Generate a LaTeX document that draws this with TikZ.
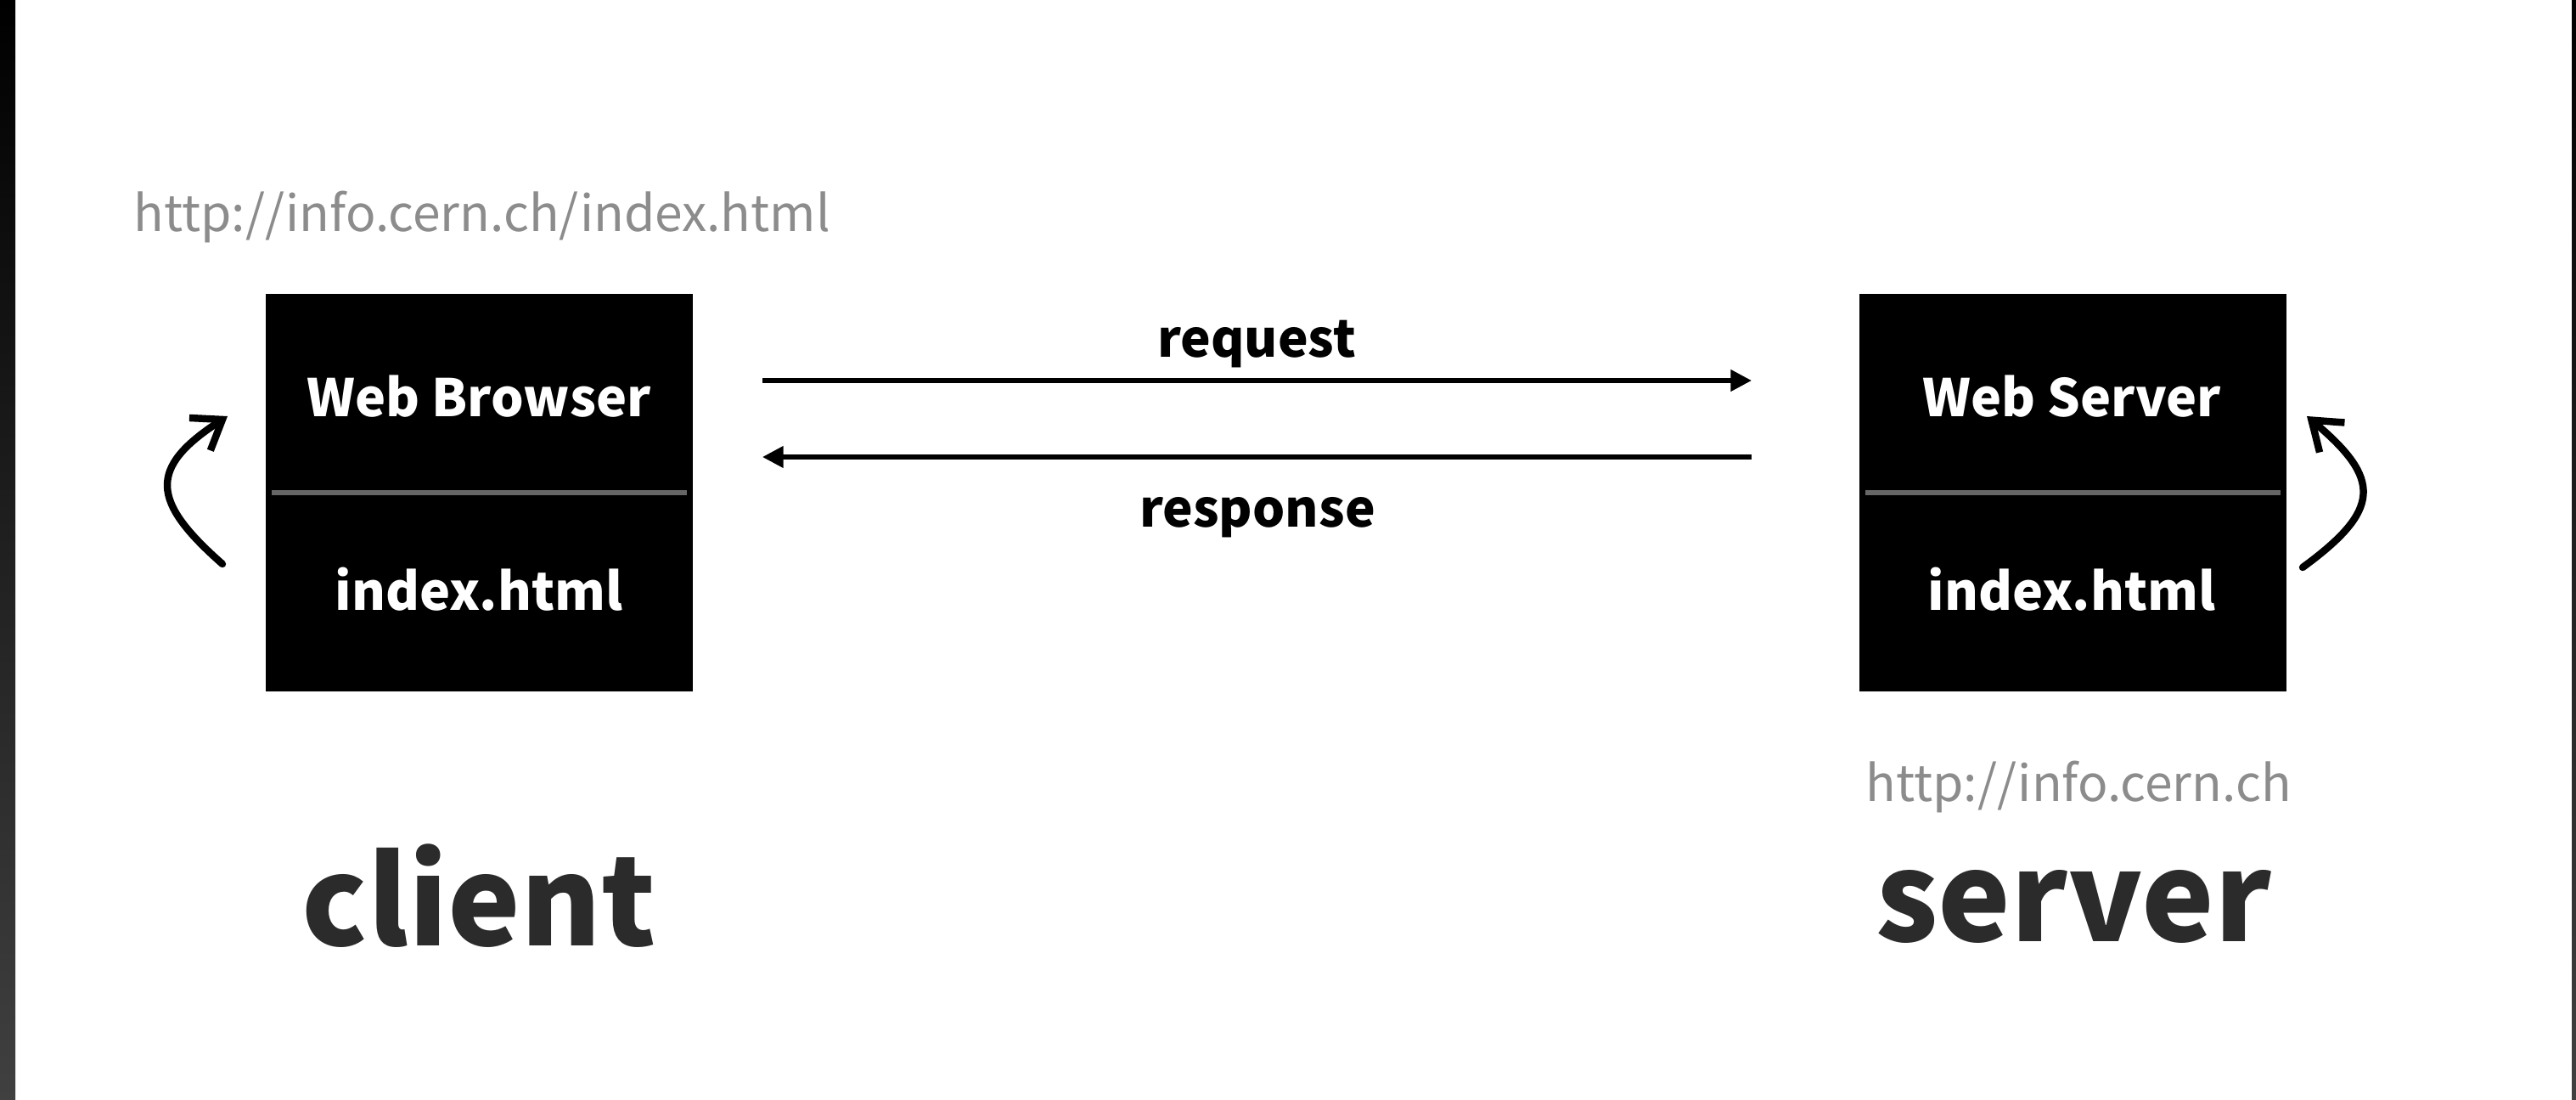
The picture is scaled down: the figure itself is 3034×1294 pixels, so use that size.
\documentclass[tikz,border=0pt]{standalone}
\usepackage{fontspec}
\setmainfont{Noto Sans CJK KR}
\usetikzlibrary{arrows.meta}
\definecolor{labelgray}{HTML}{2B2B2B}
\definecolor{urlgray}{HTML}{8C8C8C}
\definecolor{divgray}{HTML}{666666}
\definecolor{edgegray}{HTML}{404040}
\begin{document}
\begin{tikzpicture}[x=0.01cm,y=-0.01cm,
  box/.style={fill=black, draw=none, minimum width=5.03cm, minimum height=4.68cm, inner sep=0pt, anchor=north west},
  boxtext/.style={text=white, font=\bfseries\fontsize{17.3}{20}\selectfont, anchor=base, inner sep=0pt},
  msg/.style={text=black, font=\bfseries\fontsize{17.1}{20}\selectfont, anchor=base, inner sep=0pt},
  url/.style={text=urlgray, font=\fontsize{16.7}{20}\selectfont, anchor=base west, inner sep=0pt},
  role/.style={text=labelgray, font=\bfseries\fontsize{41}{46}\selectfont, anchor=base, inner sep=0pt},
  flow/.style={line width=1.5pt, -{Triangle[length=7pt,width=7pt]}},
  loop/.style={line width=2.4pt, line cap=round, -{Straight Barb[length=9pt,width=13pt]}},
  divider/.style={divgray, line width=1.7pt}
]
\useasboundingbox (0,0) rectangle (3034,1294);
\fill[white] (0,0) rectangle (3034,1294);
\shade[top color=black, middle color=black, bottom color=edgegray] (0,0) rectangle (18,1294);
\shade[top color=black, middle color=black, bottom color=edgegray] (3029,0) rectangle (3034,1294);

% boxes
\node[box] (cb) at (312,345) {};
\node[box] (sb) at (2189,345) {};
\draw[divider] ([xshift=0.08cm]cb.west) -- ([xshift=-0.08cm]cb.east);
\draw[divider] ([xshift=0.08cm]sb.west) -- ([xshift=-0.08cm]sb.east);

\node[boxtext] (cbt) at (564,490) {Web Browser};
\node[boxtext] (cbi) at (564,718) {index.html};
\node[boxtext] (sbt) at (2440,490) {Web Server};
\node[boxtext] (sbi) at (2440,718) {index.html};

% messages
\node[msg] (req) at (1480,420) {request};
\node[msg] (res) at (1481,620) {response};
\coordinate (rqS) at (898,448);
\coordinate (rqE) at (2063,448);
\coordinate (rsS) at (2063,538);
\coordinate (rsE) at (898,538);
\draw[flow] (rqS) -- (rqE);
\draw[flow] (rsS) -- (rsE);

% loops
\coordinate (clS) at (262,664);
\coordinate (clE) at (268,490);
\draw[loop] (clS) .. controls (178,590) and (174,551) .. (clE);
\coordinate (slS) at (2712,668);
\coordinate (slE) at (2717,490);
\draw[loop] (slS) .. controls (2805,600) and (2805,564) .. (slE);

% urls and roles
\node[url] (curl) at (157,272) {http://info.cern.ch/index.html};
\node[url] (surl) at (2197,943) {http://info.cern.ch};
\node[role] (client) at (564,1113) {client};
\node[role] (server) at (2442,1108) {server};
\end{tikzpicture}
\end{document}
